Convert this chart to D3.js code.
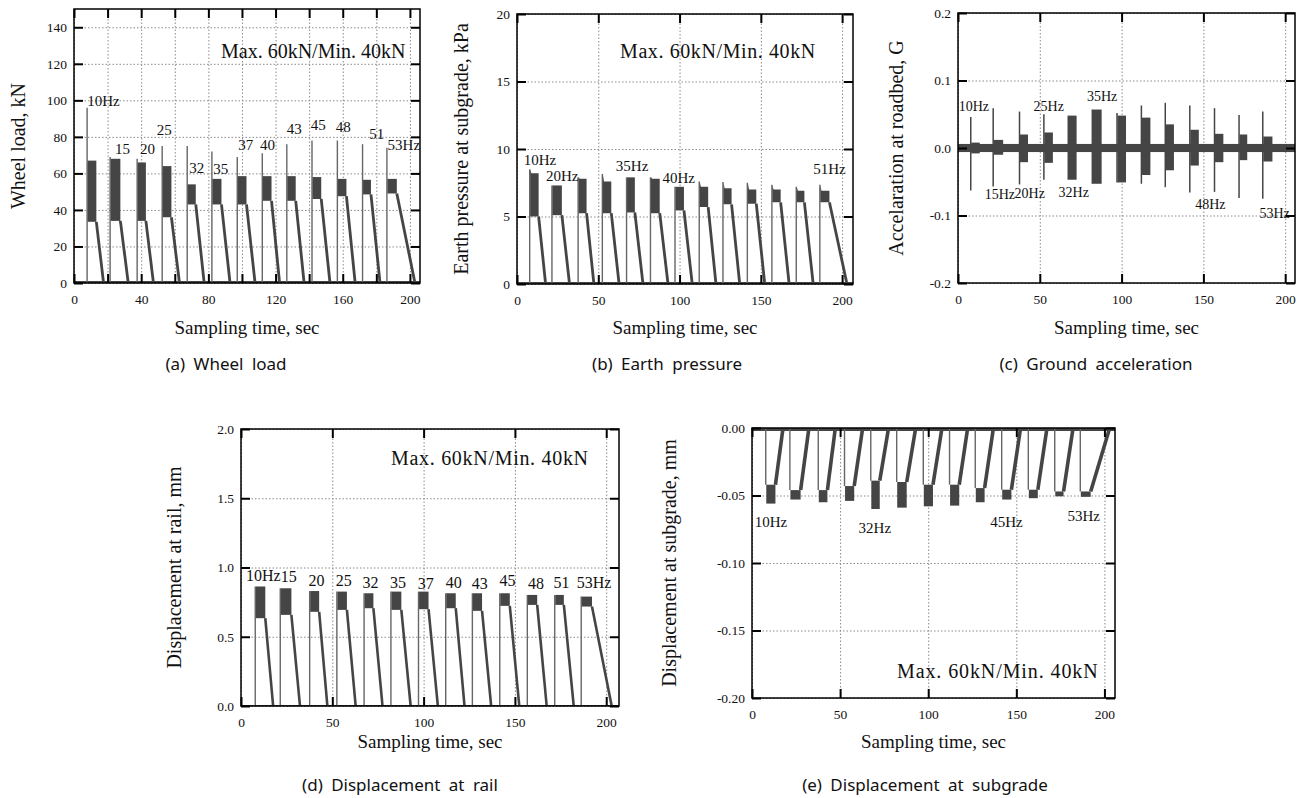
<!DOCTYPE html>
<html>
<head>
<meta charset="utf-8">
<script src="https://cdn.jsdelivr.net/npm/d3@7"></script>
<style>
body { margin: 0; background: #fff; }
svg text { font-family: "Liberation Serif", "Times New Roman", serif; fill: #111; }
.caption { font-family: "Noto Sans", "DejaVu Sans", sans-serif; }
.grid line { stroke: #8a8a8a; stroke-width: 1; stroke-dasharray: 1.5 2; }
.grid path { display: none; }
.axis path { display: none; }
.axis line { stroke: #000; stroke-width: 2; }
</style>
</head>
<body>
<svg id="fig" width="1306" height="798"></svg>
<script>
// Loading stages (same test sequence in every panel), times in sec.
var hz       = [10, 15, 20, 25, 32, 35, 37, 40, 43, 45, 48, 51, 53];
var tStart   = [7.8, 21.5, 37.6, 52.5, 67.4, 82.1, 97.2, 112.1, 126.7, 141.7, 156.8, 171.8, 186.3];
var tHoldEnd = [13.3, 27.6, 42.8, 58.0, 72.5, 87.8, 102.7, 117.6, 132.0, 147.2, 162.2, 176.8, 192.2];
var tRelease = [17.6, 32.3, 47.3, 62.8, 77.5, 92.9, 107.8, 122.4, 137.0, 152.4, 167.4, 182.2, 203.0];

// (a) wheel load, kN
var loadSpike = [96, 69, 68, 75, 75, 72, 69, 71, 76, 78, 78, 76, 74];
var loadHi    = [67, 68, 66, 64, 54, 57, 58.5, 58.5, 58.5, 58, 57, 56.5, 57];
var loadLo    = [33.5, 34, 34, 36, 43, 43, 43, 45, 45, 46, 47.5, 48.5, 49];

// (b) earth pressure at subgrade, kPa
var presPeak = [8.5, 7.3, 7.9, 8.15, 7.9, 7.9, 7.2, 7.6, 7.55, 7.5, 7.35, 7.2, 7.35];
var presHi   = [8.2, 7.3, 7.8, 7.6, 7.9, 7.8, 7.2, 7.2, 7.1, 7.0, 7.0, 6.9, 6.9];
var presLo   = [5.0, 5.1, 5.25, 5.25, 5.3, 5.25, 5.45, 5.7, 5.9, 5.95, 6.05, 6.05, 6.05];

// (c) acceleration at roadbed, G
var accNoise = 0.006;
var accUp    = [0.046, 0.059, 0.054, 0.05, 0.048, 0.057, 0.052, 0.063, 0.067, 0.063, 0.059, 0.049, 0.054];
var accDown  = [-0.063, -0.057, -0.054, -0.047, -0.047, -0.053, -0.051, -0.053, -0.058, -0.066, -0.065, -0.074, -0.075];
var accHi    = [0.008, 0.012, 0.02, 0.023, 0.048, 0.057, 0.048, 0.045, 0.035, 0.027, 0.021, 0.02, 0.017];
var accLo    = [-0.008, -0.01, -0.021, -0.022, -0.047, -0.053, -0.051, -0.04, -0.033, -0.026, -0.021, -0.018, -0.02];

// (d) displacement at rail, mm
var railHi = [0.863, 0.85, 0.83, 0.826, 0.814, 0.826, 0.826, 0.814, 0.814, 0.814, 0.802, 0.802, 0.79];
var railLo = [0.634, 0.658, 0.68, 0.694, 0.706, 0.694, 0.699, 0.706, 0.687, 0.723, 0.73, 0.73, 0.718];

// (e) displacement at subgrade, mm
var subHi = [-0.042, -0.046, -0.046, -0.043, -0.039, -0.04, -0.042, -0.042, -0.0445, -0.0457, -0.0457, -0.047, -0.047];
var subLo = [-0.056, -0.053, -0.055, -0.054, -0.06, -0.059, -0.058, -0.0575, -0.055, -0.053, -0.052, -0.0506, -0.051];

// Frequency labels: text, time, value
var labelsA = [["10Hz", 7.9, 96.8], ["15", 24.4, 70.5], ["20", 39.3, 70.5], ["25", 49.2, 80.9], ["32", 68.6, 60.3],
    ["35", 82.9, 59.6], ["37", 97.8, 72.7], ["40", 110.7, 72.7], ["43", 126.6, 81.4], ["45", 140.9, 83.6],
    ["48", 155.9, 82.4], ["51", 175.8, 79.1], ["53Hz", 186.7, 72.7]];
var labelsB = [["10Hz", 4.1, 8.83], ["20Hz", 17.8, 7.64], ["35Hz", 60.8, 8.34], ["40Hz", 89.5, 7.47], ["51Hz", 182.2, 8.16]];
var labelsC = [["10Hz", 0.4, 0.055], ["15Hz", 16.3, -0.076], ["20Hz", 34.6, -0.074], ["25Hz", 46.2, 0.055],
    ["32Hz", 61.5, -0.072], ["35Hz", 78.8, 0.069], ["48Hz", 145, -0.091], ["53Hz", 184.3, -0.103]];
var labelsD = [["10Hz", 2.7, 0.899], ["15", 21.7, 0.894], ["20", 36.9, 0.87], ["25", 51.9, 0.863], ["32", 66.5, 0.851],
    ["35", 81.6, 0.855], ["37", 96.8, 0.846], ["40", 112.1, 0.855], ["43", 126.4, 0.846], ["45", 141.6, 0.863],
    ["48", 157.1, 0.846], ["51", 171.1, 0.855], ["53Hz", 183.9, 0.855]];
var labelsE = [["10Hz", 1.5, -0.0733], ["32Hz", 60.5, -0.0778], ["45Hz", 135.2, -0.0733], ["53Hz", 179, -0.0691]];

// Tick values
var xTicks20 = [0, 20, 40, 60, 80, 100, 120, 140, 160, 180, 200];
var xTicks50 = [0, 50, 100, 150, 200];
var yTicksA = [0, 20, 40, 60, 80, 100, 120, 140];
var yTicksB = [0, 5, 10, 15, 20];
var yTicksC = [-0.2, -0.1, 0, 0.1, 0.2];
var yTicksD = [0, 0.5, 1.0, 1.5, 2.0];
var yTicksE = [-0.2, -0.15, -0.1, -0.05, 0];

var maxText = "Max. 60kN/Min. 40kN";
var dark = "#454545";
var serif = '"Liberation Serif", "Times New Roman", serif';

var panels = [
    { id: "a", box: [74, 9, 420, 283], xMax: 206, yDom: [0, 150], xTicks: xTicks20, xLabelStep: 40,
      yTicks: yTicksA, yFmt: function(d) { return d; }, yTitle: "Wheel load, kN", yTitleX: 25,
      maxPos: [221, 58, 0], labels: labelsA, labelSize: 15, caption: "(a) Wheel load", capX: 226, capY: 370,
      xTitleY: 334, kind: "pulse", rise: loadSpike, top0: loadHi, hi: loadHi, lo: loadLo, rampFrom: loadLo,
      baseW: 4, rampW: 2.8 },
    { id: "b", box: [517, 14, 853, 284], xMax: 206.7, yDom: [0, 20], xTicks: xTicks50, xLabelStep: 50,
      yTicks: yTicksB, yFmt: function(d) { return d; }, yTitle: "Earth pressure at subgrade, kPa", yTitleX: 468,
      maxPos: [620, 58, 0.6], labels: labelsB, labelSize: 15, caption: "(b) Earth pressure", capX: 667, capY: 370,
      xTitleY: 334, kind: "pulse", rise: presPeak, top0: presPeak, hi: presHi, lo: presLo, rampFrom: presLo,
      baseW: 4, rampW: 2.8 },
    { id: "c", box: [958, 13, 1295, 283], xMax: 206, yDom: [-0.2, 0.2], xTicks: xTicks50, xLabelStep: 50,
      yTicks: yTicksC, yFmt: function(d) { return d.toFixed(1); }, yTitle: "Accelaration at roadbed, G", yTitleX: 903,
      maxPos: null, labels: labelsC, labelSize: 14, caption: "(c) Ground acceleration", capX: 1096, capY: 370,
      xTitleY: 334, kind: "acc" },
    { id: "d", box: [241, 429, 619, 706], xMax: 207, yDom: [0, 2], xTicks: xTicks50, xLabelStep: 50,
      yTicks: yTicksD, yFmt: function(d) { return d.toFixed(1); }, yTitle: "Displacement at rail, mm", yTitleX: 181,
      maxPos: [391, 465, 0.7], labels: labelsD, labelSize: 16, caption: "(d) Displacement at rail", capX: 400, capY: 791,
      xTitleY: 748, kind: "pulse", rise: railHi, top0: railHi, hi: railHi, lo: railLo, rampFrom: railLo,
      baseW: 2, rampW: 2.6 },
    { id: "e", box: [752, 428, 1115, 698], xMax: 206, yDom: [-0.2, 0], xTicks: xTicks50, xLabelStep: 50,
      yTicks: yTicksE, yFmt: function(d) { return d.toFixed(2); }, yTitle: "Displacement at subgrade, mm", yTitleX: 676,
      maxPos: [897, 678, 0.9], labels: labelsE, labelSize: 15, caption: "(e) Displacement at subgrade", capX: 925, capY: 791,
      xTitleY: 748, kind: "pulse", rise: subHi, top0: subHi, hi: subHi, lo: subLo, rampFrom: subHi,
      baseW: 6, rampW: 3.6 }
];

var svg = d3.select("#fig");
var idx = d3.range(tStart.length);

function drawPanel(p) {
    var w = p.box[2] - p.box[0], h = p.box[3] - p.box[1];
    var x = d3.scaleLinear().domain([0, p.xMax]).range([0, w]);
    var y = d3.scaleLinear().domain(p.yDom).range([h, 0]);
    var g = svg.append("g").attr("transform", "translate(" + p.box[0] + "," + p.box[1] + ")");

    g.append("clipPath").attr("id", "clip" + p.id)
        .append("rect").attr("width", w).attr("height", h);

    // dotted grid
    g.append("g").attr("class", "grid").attr("transform", "translate(0," + h + ")")
        .call(d3.axisBottom(x).tickValues(p.xTicks).tickSize(-h).tickFormat(""));
    g.append("g").attr("class", "grid")
        .call(d3.axisLeft(y).tickValues(p.yTicks).tickSize(-w).tickFormat(""));

    var sig = g.append("g").attr("clip-path", "url(#clip" + p.id + ")");

    if (p.kind === "pulse") {
        sig.append("line")
            .attr("x1", 0).attr("x2", w).attr("y1", y(0)).attr("y2", y(0))
            .attr("stroke", dark).attr("stroke-width", p.baseW);

        sig.selectAll(".rise").data(idx).join("line").attr("class", "rise")
            .attr("x1", function(i) { return x(tStart[i]); })
            .attr("x2", function(i) { return x(tStart[i]); })
            .attr("y1", y(0))
            .attr("y2", function(i) { return y(p.rise[i]); })
            .attr("stroke", "#666").attr("stroke-width", 1.4);

        var band = d3.area()
            .x(function(d) { return x(d[0]); })
            .y1(function(d) { return y(d[1]); })
            .y0(function(d) { return y(d[2]); });

        sig.selectAll(".band").data(idx).join("path").attr("class", "band")
            .attr("d", function(i) {
                return band([[tStart[i] + 0.3, p.top0[i], p.lo[i]],
                             [tStart[i] + 1.0, p.hi[i], p.lo[i]],
                             [tHoldEnd[i], p.hi[i], p.lo[i]]]);
            })
            .attr("fill", dark);

        sig.selectAll(".ramp").data(idx).join("line").attr("class", "ramp")
            .attr("x1", function(i) { return x(tHoldEnd[i]); })
            .attr("y1", function(i) { return y(p.rampFrom[i]); })
            .attr("x2", function(i) { return x(tRelease[i]); })
            .attr("y2", y(0))
            .attr("stroke", dark).attr("stroke-width", p.rampW);
    } else {
        sig.append("rect")
            .attr("x", 0).attr("width", w)
            .attr("y", y(accNoise)).attr("height", y(-accNoise) - y(accNoise))
            .attr("fill", dark);

        sig.selectAll(".spike").data(idx).join("line").attr("class", "spike")
            .attr("x1", function(i) { return x(tStart[i]); })
            .attr("x2", function(i) { return x(tStart[i]); })
            .attr("y1", function(i) { return y(accDown[i]); })
            .attr("y2", function(i) { return y(accUp[i]); })
            .attr("stroke", dark).attr("stroke-width", 1.5);

        sig.selectAll(".band").data(idx).join("rect").attr("class", "band")
            .attr("x", function(i) { return x(tStart[i] + 0.3); })
            .attr("width", function(i) { return x(tHoldEnd[i]) - x(tStart[i] + 0.3); })
            .attr("y", function(i) { return y(accHi[i]); })
            .attr("height", function(i) { return y(accLo[i]) - y(accHi[i]); })
            .attr("fill", dark);
    }

    // frame
    g.append("rect").attr("width", w).attr("height", h)
        .attr("fill", "none").attr("stroke", "#000").attr("stroke-width", 1.5);

    // inward ticks on all four sides
    var bottom = g.append("g").attr("class", "axis").attr("transform", "translate(0," + h + ")")
        .call(d3.axisBottom(x).tickValues(p.xTicks).tickSize(-9).tickPadding(11)
            .tickFormat(function(d) { return d % p.xLabelStep === 0 ? d : ""; }));
    g.append("g").attr("class", "axis")
        .call(d3.axisTop(x).tickValues(p.xTicks).tickSize(-9).tickFormat(""));
    var left = g.append("g").attr("class", "axis")
        .call(d3.axisLeft(y).tickValues(p.yTicks).tickSize(-9).tickPadding(7).tickFormat(p.yFmt));
    g.append("g").attr("class", "axis").attr("transform", "translate(" + w + ",0)")
        .call(d3.axisRight(y).tickValues(p.yTicks).tickSize(-9).tickFormat(""));

    [bottom, left].forEach(function(a) {
        a.selectAll("text")
            .attr("fill", "#111")
            .style("font-family", serif)
            .style("font-size", "13.5px");
    });

    // frequency labels
    g.selectAll(".hz").data(p.labels).join("text").attr("class", "hz")
        .attr("x", function(d) { return x(d[1]); })
        .attr("y", function(d) { return y(d[2]); })
        .style("font-size", p.labelSize + "px")
        .text(function(d) { return d[0]; });

    if (p.maxPos) {
        svg.append("text")
            .attr("x", p.maxPos[0]).attr("y", p.maxPos[1])
            .style("font-size", "20px").style("letter-spacing", p.maxPos[2] + "px")
            .text(maxText);
    }

    svg.append("text")
        .attr("text-anchor", "middle")
        .attr("transform", "translate(" + p.yTitleX + "," + (p.box[1] + p.box[3]) / 2 + ") rotate(-90)")
        .style("font-size", "20px")
        .text(p.yTitle);

    svg.append("text")
        .attr("text-anchor", "middle")
        .attr("x", (p.box[0] + p.box[2]) / 2).attr("y", p.xTitleY)
        .style("font-size", "19px")
        .text("Sampling time, sec");

    svg.append("text").attr("class", "caption")
        .attr("text-anchor", "middle")
        .attr("x", p.capX).attr("y", p.capY)
        .style("font-size", "17px").style("word-spacing", "4px")
        .text(p.caption);
}

panels.forEach(drawPanel);
</script>
</body>
</html>
